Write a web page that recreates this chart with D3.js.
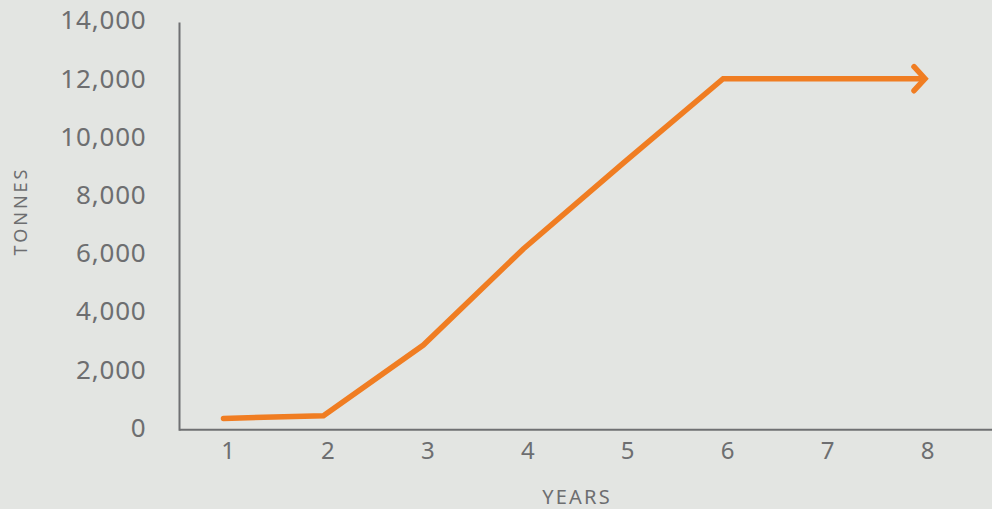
<!DOCTYPE html>
<html>
<head>
<meta charset="utf-8">
<script src="https://cdn.jsdelivr.net/npm/d3@7"></script>
<style>
  html, body { margin: 0; padding: 0; background: #e3e5e2; }
  svg { display: block; }
  .tick text { fill: #6d6e70; font-family: "Noto Sans", sans-serif; }
</style>
</head>
<body>
<div id="js-canvas"></div>
<script>
"use strict";

// Years along the bottom.
const years = [1, 2, 3, 4, 5, 6, 7, 8];

// Tonnes per year.
const tonnes = [330, 420, 2850, 6150, 9100, 12000, 12000, 12000];

// Ticks on the left axis.
const yTicks = [0, 2000, 4000, 6000, 8000, 10000, 12000, 14000];

const xTitle = "YEARS";
const yTitle = "TONNES";

const width = 992;
const height = 509;
const axisX = 179.5;
const axisY = 429.7;
const textColor = "#6d6e70";
const lineColor = "#f07d22";

function createCanvas(w, h) {
  return d3.select("#js-canvas")
    .append("svg")
      .attr("width", w)
      .attr("height", h);
}

const canvas = createCanvas(width, height);

const x = d3.scalePoint()
  .domain(years)
  .range([227.5, 927]);

const y = d3.scaleLinear()
  .domain([0, 14000])
  .range([428, 20.5]);

// y axis labels
canvas.append("g")
  .attr("transform", "translate(" + axisX + ",0)")
  .call(d3.axisLeft(y)
          .tickValues(yTicks)
          .tickFormat(d3.format(","))
          .tickSize(0)
          .tickPadding(33))
  .call(function (g) { g.select(".domain").remove(); })
  .selectAll("text")
    .style("font-size", "26px")
    .style("letter-spacing", "0.8px");

// x axis labels
canvas.append("g")
  .attr("transform", "translate(0," + axisY + ")")
  .call(d3.axisBottom(x)
          .tickSize(0)
          .tickPadding(12.5))
  .call(function (g) { g.select(".domain").remove(); })
  .selectAll("text")
    .style("font-size", "24px");

// axis lines
canvas.append("line")
  .attr("x1", axisX).attr("x2", axisX)
  .attr("y1", y(14000) + 2).attr("y2", axisY + 1)
  .attr("stroke", "#6f7072")
  .attr("stroke-width", 2);

canvas.append("line")
  .attr("x1", axisX).attr("x2", width)
  .attr("y1", axisY).attr("y2", axisY)
  .attr("stroke", "#6f7072")
  .attr("stroke-width", 2);

// axis titles
canvas.append("text")
  .attr("x", 577)
  .attr("y", 503.5)
  .attr("text-anchor", "middle")
  .attr("fill", textColor)
  .style("font-family", "'Noto Sans', sans-serif")
  .style("font-size", "20px")
  .style("letter-spacing", "2.2px")
  .text(xTitle);

canvas.append("text")
  .attr("transform", "translate(26.7,211) rotate(-90)")
  .attr("text-anchor", "middle")
  .attr("fill", textColor)
  .style("font-family", "'Noto Sans', sans-serif")
  .style("font-size", "18px")
  .style("letter-spacing", "3px")
  .text(yTitle);

// the line
const data = years.map(function (yr, i) { return { year: yr, value: tonnes[i] }; });
const shift = -4;

const line = d3.line()
  .x(function (d) { return x(d.year) + shift; })
  .y(function (d) { return y(d.value); });

const plot = canvas.append("g");

plot.append("path")
  .datum(data)
  .attr("d", line)
  .attr("fill", "none")
  .attr("stroke", lineColor)
  .attr("stroke-width", 5.5)
  .attr("stroke-linecap", "round")
  .attr("stroke-linejoin", "miter");

// chevron arrow head at the last point
const last = data[data.length - 1];
const tipX = x(last.year) + shift + 2;
const tipY = y(last.value);
plot.append("path")
  .attr("d", "M" + (tipX - 11) + "," + (tipY - 12) +
             "L" + tipX + "," + tipY +
             "L" + (tipX - 11) + "," + (tipY + 12))
  .attr("fill", "none")
  .attr("stroke", lineColor)
  .attr("stroke-width", 5.5)
  .attr("stroke-linecap", "round")
  .attr("stroke-linejoin", "miter");
</script>
</body>
</html>
